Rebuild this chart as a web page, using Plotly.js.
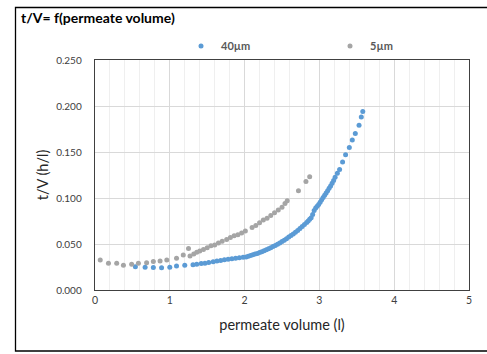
<!DOCTYPE html>
<html>
<head>
<meta charset="utf-8">
<script src="https://cdn.plot.ly/plotly-3.0.1.min.js"></script>
<style>
  html, body { margin: 0; padding: 0; background: #fff; }
  #chart { width: 487px; height: 354px; }
</style>
</head>
<body>
<div id="chart"></div>
<script>
// Permeate volume (l) and t/V (h/l) for the 40 µm membrane
const vol40 = [0.54, 0.67, 0.78, 0.89, 1.00, 1.09, 1.20, 1.31, 1.36, 1.42, 1.47, 1.52, 1.58, 1.63, 1.68, 1.73, 1.78, 1.83, 1.88, 1.93, 1.98, 2.02, 2.05, 2.08, 2.11, 2.14, 2.17, 2.20, 2.23, 2.26, 2.29, 2.32, 2.35, 2.38, 2.41, 2.44, 2.47, 2.50, 2.53, 2.56, 2.59, 2.62, 2.65, 2.68, 2.71, 2.74, 2.77, 2.80, 2.83, 2.85, 2.87, 2.89, 2.91, 2.93, 2.95, 2.97, 2.99, 3.01, 3.03, 3.05, 3.07, 3.09, 3.11, 3.13, 3.15, 3.17, 3.19, 3.21, 3.24, 3.27, 3.31, 3.35, 3.40, 3.44, 3.48, 3.53, 3.56, 3.58];
const tv40  = [0.0253, 0.0247, 0.0245, 0.0242, 0.0247, 0.026, 0.027, 0.0275, 0.028, 0.0288, 0.029, 0.030, 0.0308, 0.0315, 0.0322, 0.0328, 0.0334, 0.034, 0.0345, 0.035, 0.0355, 0.036, 0.0368, 0.0375, 0.0382, 0.039, 0.0398, 0.0407, 0.0416, 0.0426, 0.0437, 0.0448, 0.046, 0.0472, 0.0485, 0.0498, 0.0512, 0.0527, 0.0542, 0.0558, 0.0575, 0.0592, 0.061, 0.0628, 0.0648, 0.0668, 0.069, 0.0712, 0.0735, 0.075, 0.0768, 0.0786, 0.082, 0.0865, 0.089, 0.091, 0.093, 0.0955, 0.098, 0.1005, 0.103, 0.1055, 0.108, 0.1105, 0.113, 0.116, 0.119, 0.1225, 0.127, 0.131, 0.139, 0.147, 0.155, 0.163, 0.170, 0.179, 0.188, 0.194];

// Permeate volume (l) and t/V (h/l) for the 5 µm membrane
const vol5 = [0.07, 0.18, 0.29, 0.38, 0.49, 0.58, 0.69, 0.78, 0.87, 0.96, 1.09, 1.18, 1.25, 1.27, 1.32, 1.36, 1.40, 1.45, 1.50, 1.55, 1.60, 1.65, 1.70, 1.76, 1.81, 1.86, 1.91, 1.96, 2.01, 2.10, 2.15, 2.20, 2.25, 2.30, 2.35, 2.40, 2.45, 2.50, 2.54, 2.57, 2.72, 2.82, 2.87];
const tv5  = [0.0326, 0.029, 0.029, 0.027, 0.028, 0.029, 0.0297, 0.031, 0.0315, 0.0326, 0.0344, 0.038, 0.045, 0.037, 0.039, 0.041, 0.0425, 0.044, 0.046, 0.048, 0.049, 0.051, 0.053, 0.055, 0.057, 0.059, 0.060, 0.062, 0.064, 0.068, 0.070, 0.073, 0.076, 0.078, 0.081, 0.084, 0.087, 0.090, 0.094, 0.097, 0.108, 0.118, 0.123];

const seriesNames = ['40µm', '5µm'];
const xTicks = [0, 1, 2, 3, 4, 5];
const yTicks = [0, 0.05, 0.10, 0.15, 0.20, 0.25];

const FONT = 'Lato, "Open Sans", sans-serif';

const traces = [
  { x: vol40, y: tv40, name: seriesNames[0], type: 'scatter', mode: 'markers',
    marker: { color: '#5B9BD5', size: 5 } },
  { x: vol5, y: tv5, name: seriesNames[1], type: 'scatter', mode: 'markers',
    marker: { color: '#A5A5A5', size: 5 } }
];

// plot box in pixels: left 95, right 469, top 60, bottom 290
const W = 374, H = 230, L = 95, T = 60;
const px = v => (v - L) / W;
const py = v => 1 - (v - T) / H;

const layout = {
  width: 487, height: 354,
  margin: { l: 95, r: 18, t: 60, b: 64, autoexpand: false },
  paper_bgcolor: '#fff', plot_bgcolor: '#fff',
  font: { family: FONT, color: '#595959', size: 10 },
  showlegend: true,
  legend: {
    orientation: 'h', xref: 'container', yref: 'container',
    x: 181 / 487, xanchor: 'left', y: 1 - 46 / 354, yanchor: 'middle',
    font: { family: FONT, size: 11, color: '#595959', weight: 'bold' },
    itemwidth: 30, entrywidth: 104, entrywidthmode: 'pixels',
    bgcolor: 'rgba(0,0,0,0)'
  },
  xaxis: {
    range: [0, 5], tickvals: xTicks, ticktext: xTicks.map(String),
    showgrid: true, gridcolor: '#d9d9d9', gridwidth: 1,
    minor: { dtick: 0.2, showgrid: true, gridcolor: '#efefef', gridwidth: 1 },
    zeroline: false, showline: true, linecolor: '#404040', linewidth: 1.3, mirror: true,
    ticks: '', tickfont: { family: FONT, size: 10.5, color: '#404040' },
    title: { text: 'permeate volume (l)', font: { family: FONT, size: 14.5, color: '#262626' }, standoff: 15 }
  },
  yaxis: {
    range: [0, 0.25], tickvals: yTicks, tickformat: '.3f',
    showgrid: true, gridcolor: '#d9d9d9', gridwidth: 1,
    zeroline: false, showline: true, linecolor: '#404040', linewidth: 1.3, mirror: true,
    ticks: '', ticklabelstandoff: 10, tickfont: { family: FONT, size: 10, color: '#404040' },
    title: { text: 't/V (h/l)', font: { family: FONT, size: 14.5, color: '#262626' }, standoff: 4 }
  },
  annotations: [
    { text: '<b>t/V= f(permeate volume)</b>', xref: 'paper', yref: 'paper',
      x: px(19), y: py(18), xanchor: 'left', yanchor: 'middle', showarrow: false,
      font: { family: FONT, size: 14, color: '#000' } }
  ],
  shapes: [
    // outer chart frame
    { type: 'rect', xref: 'paper', yref: 'paper', layer: 'below',
      x0: px(15.5), x1: px(488), y0: py(351), y1: py(7.5),
      line: { color: '#000', width: 1.3 }, fillcolor: 'rgba(0,0,0,0)' }
  ]
};

Plotly.newPlot('chart', traces, layout, { displayModeBar: false, staticPlot: true });
</script>
</body>
</html>
